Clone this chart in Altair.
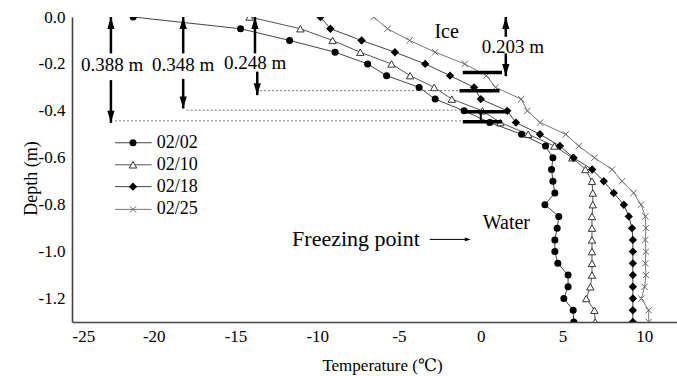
import altair as alt
import pandas as pd

# ---------------- data ----------------
depths = [0.0, -0.05, -0.1, -0.15, -0.2, -0.25, -0.3, -0.35, -0.4, -0.45, -0.5, -0.55, -0.6,
          -0.65, -0.7, -0.75, -0.8, -0.85, -0.9, -0.95, -1.0, -1.05, -1.1, -1.15, -1.2, -1.25, -1.3]
series_names = ["02/02", "02/10", "02/18", "02/25"]
t_0202 = [-21.26, -14.69, -11.69, -8.91, -6.92, -5.76, -3.77, -2.79, -1.02, 0.55, 2.5, 3.96, 4.41,
          4.33, 4.41, 4.53, 3.92, 4.77, 4.67, 4.53, 4.53, 4.71, 5.34, 5.34, 5.08, 5.65, 5.69]
t_0210 = [-14.14, -11.03, -9.06, -7.37, -5.46, -4.32, -2.85, -1.77, 0.1, 1.2, 2.9, 4.5, 5.6,
          6.4, 6.8, 6.85, 6.85, 6.8, 6.8, 6.8, 6.8, 6.8, 6.8, 6.7, 6.45, 6.95, 7.0]
t_0218 = [-9.81, -9.2, -7.29, -5.25, -3.4, -1.88, -0.41, 0.0, 1.62, 2.15, 3.62, 4.84, 5.67,
          6.81, 7.52, 8.13, 8.75, 9.05, 9.25, 9.3, 9.3, 9.3, 9.3, 9.3, 9.3, 9.3, 9.3]
t_0225 = [-6.55, -5.7, -4.35, -2.79, -0.98, 0.35, 0.9, 2.47, 2.85, 3.63, 5.2, 5.99, 6.95,
          8.03, 8.64, 9.35, 9.8, 10.06, 10.1, 10.06, 10.1, 10.06, 10.1, 10.02, 9.82, 10.27, 10.27]

# annotation values
arrow_x = [-22.62, -18.2, -13.81, 1.53]
arrow_labels = ["0.388 m", "0.348 m", "0.248 m", "0.203 m"]
label_x = [-22.55, -18.2, -13.8, 1.96]
label_y = [-0.205, -0.205, -0.198, -0.127]
up_shaft_end = [-0.155, -0.155, -0.155, -0.084]
low_shaft_x = [-22.62, -18.2, -13.67, 1.53]
low_shaft_start = [-0.269, -0.264, -0.233, -0.155]
low_tip = [-0.451, -0.39, -0.333, -0.252]

dotted_y = [-0.443, -0.397, -0.314]
dotted_x1 = [-22.37, -17.99, -13.5]
dotted_x2 = [-1.2, -1.2, -1.3]

bar_y = [-0.237, -0.314, -0.404, -0.446]
bar_x1 = [-1.1, -1.3, -1.1, -1.1]
bar_x2 = [1.3, 1.15, 1.65, 1.3]

x_major = [-25, -20, -15, -10, -5, 0, 5, 10]
x_minor = [-22.5, -17.5, -12.5, -7.5, -2.5, 2.5, 7.5]
y_major = [0.0, -0.2, -0.4, -0.6, -0.8, -1.0, -1.2]
y_minor = [-0.1, -0.3, -0.5, -0.7, -0.9, -1.1]

legend_y = [-0.536, -0.630, -0.723, -0.820]

# ---------------- tables ----------------
rows = []
for name, vals in zip(series_names, [t_0202, t_0210, t_0218, t_0225]):
    for i, (d, t) in enumerate(zip(depths, vals)):
        rows.append({"series": name, "depth": d, "temp": t, "idx": i})
df = pd.DataFrame(rows)

FONT = "'Liberation Serif', 'Times New Roman', 'DejaVu Serif', serif"
X = alt.X("temp:Q", scale=alt.Scale(domain=[-25, 12], nice=False, zero=False),
          axis=alt.Axis(values=x_major, ticks=False, labelPadding=6, labelFontSize=17,
                        labelFont=FONT, labelColor="black", domainColor="#444", domainWidth=1.6,
                        grid=False, title="Temperature (℃)", titleFont=FONT, titleFontSize=17,
                        titleFontWeight="normal", titleColor="black", titleX=310, titleY=43,
                        titleBaseline="middle",
                        labelExpr="replace(format(datum.value, 'd'), '\u2212', '-')"))
Y = alt.Y("depth:Q", scale=alt.Scale(domain=[-1.3, 0], nice=False, zero=False),
          axis=alt.Axis(values=y_major, ticks=False, labelPadding=7, labelFontSize=17,
                        labelFont=FONT, labelColor="black", domainColor="#444", domainWidth=1.6,
                        grid=False, title="Depth (m)", titleFont=FONT, titleFontSize=18,
                        titleFontWeight="normal", titleColor="black", titleX=-41, titleY=161,
                        titleBaseline="middle", titleAlign="center", titleAngle=270,
                        labelExpr="replace(format(datum.value, '.1f'), '\u2212', '-')"))

line_colors = ["#444", "#555", "#444", "#777"]
lines = alt.Chart(df).mark_line(strokeWidth=1, clip=True).encode(
    x=X, y=Y, order="idx:Q",
    color=alt.Color("series:N", scale=alt.Scale(domain=series_names, range=line_colors), legend=None),
)

CROSS = "M-1,-1L1,1M-1,1L1,-1"
pt_styles = {
    "02/02": dict(shape="circle", filled=True, color="black", size=49),
    "02/10": dict(shape="triangle-up", filled=True, fill="white", stroke="#333", strokeWidth=1, size=55),
    "02/18": dict(shape="diamond", filled=True, color="black", size=70),
    "02/25": dict(shape=CROSS, filled=False, stroke="#666", strokeWidth=1, size=40),
}
point_layers = []
for name in series_names:
    point_layers.append(
        alt.Chart(df).transform_filter(alt.datum.series == name)
        .mark_point(clip=True, opacity=1, **pt_styles[name])
        .encode(x="temp:Q", y="depth:Q")
    )

# frame top line
top_line = alt.Chart(pd.DataFrame({"d": [0.0]})).mark_rule(color="#444", strokeWidth=1.6).encode(y=alt.Y("d:Q"))

# ticks (inside)
xt_major = alt.Chart(pd.DataFrame({"v": x_major})).mark_tick(orient="vertical", size=12, thickness=1.4,
    color="#444", yOffset=-6).encode(x="v:Q", y=alt.datum(-1.3))
xt_minor = alt.Chart(pd.DataFrame({"v": x_minor})).mark_tick(orient="vertical", size=6, thickness=1.2,
    color="#444", yOffset=-3).encode(x="v:Q", y=alt.datum(-1.3))
yt_major = alt.Chart(pd.DataFrame({"v": y_major})).mark_tick(orient="horizontal", size=11, thickness=1.4,
    color="#444", xOffset=5.5).encode(y="v:Q", x=alt.datum(-25))
yt_minor = alt.Chart(pd.DataFrame({"v": y_minor})).mark_tick(orient="horizontal", size=6, thickness=1.2,
    color="#444", xOffset=3).encode(y="v:Q", x=alt.datum(-25))

# freezing point line
freeze = alt.Chart(pd.DataFrame({"t": [0.0]})).mark_rule(color="black", strokeWidth=2.2,
    strokeDash=[9, 5]).encode(x="t:Q")
freeze_solid = alt.Chart(pd.DataFrame({"t": [0.0], "a": [bar_y[2]], "b": [bar_y[3]]})).mark_rule(
    color="black", strokeWidth=2).encode(x="t:Q", y="a:Q", y2="b:Q")

# dotted guide lines
dots = alt.Chart(pd.DataFrame({"y": dotted_y, "x1": dotted_x1, "x2": dotted_x2})).mark_rule(
    color="#777", strokeWidth=1, strokeDash=[2, 2]).encode(x="x1:Q", x2="x2:Q", y="y:Q")

# thick ice-bottom bars
bars = alt.Chart(pd.DataFrame({"y": bar_y, "x1": bar_x1, "x2": bar_x2})).mark_rule(
    color="black", strokeWidth=3.5).encode(x="x1:Q", x2="x2:Q", y="y:Q")

# arrows
ann = pd.DataFrame({"x": arrow_x, "lx": low_shaft_x, "top": [0.0] * 4, "ue": up_shaft_end,
                    "ls": low_shaft_start, "lt": low_tip, "label": arrow_labels,
                    "tx": label_x, "ty": label_y})
up_shaft = alt.Chart(ann).mark_rule(color="black", strokeWidth=2.5).encode(x="x:Q", y="top:Q", y2="ue:Q")
low_shaft = alt.Chart(ann).mark_rule(color="black", strokeWidth=2.5).encode(x="lx:Q", y="ls:Q", y2="lt:Q")
HEAD_UP = "M0,0L0.6,2L-0.6,2Z"
HEAD_DOWN = "M0,0L0.6,-2L-0.6,-2Z"
up_head = alt.Chart(ann).mark_point(shape=HEAD_UP, filled=True, color="black", size=144, opacity=1,
    strokeWidth=0).encode(x="x:Q", y="top:Q")
down_head = alt.Chart(ann).mark_point(shape=HEAD_DOWN, filled=True, color="black", size=144, opacity=1,
    strokeWidth=0).encode(x="lx:Q", y="lt:Q")
ann_text = alt.Chart(ann).mark_text(font=FONT, fontSize=19, color="black", align="center",
    baseline="middle").encode(x="tx:Q", y="ty:Q", text="label:N")

# text labels
txt = pd.DataFrame({"x": [-2.09, 0.12], "y": [-0.065, -0.879], "t": ["Ice", "Water"]})
ice_txt = alt.Chart(txt.iloc[[0]]).mark_text(font=FONT, fontSize=20, color="black", align="center",
    baseline="middle").encode(x="x:Q", y="y:Q", text="t:N")
water_txt = alt.Chart(txt.iloc[[1]]).mark_text(font=FONT, fontSize=20, color="black", align="left",
    baseline="middle").encode(x="x:Q", y="y:Q", text="t:N")
fp = pd.DataFrame({"x": [-3.73], "y": [-0.948], "t": ["Freezing point"], "a1": [-3.12], "a2": [-0.9],
                   "tip": [-0.61]})
fp_txt = alt.Chart(fp).mark_text(font=FONT, fontSize=22, color="black", align="right",
    baseline="middle").encode(x="x:Q", y="y:Q", text="t:N")
fp_arrow = alt.Chart(fp).mark_rule(color="black", strokeWidth=1).encode(x="a1:Q", x2="a2:Q", y="y:Q")
fp_head = alt.Chart(fp).mark_point(shape="M0,0L-2,0.6L-2,-0.6Z", filled=True, color="black", size=36,
    opacity=1, strokeWidth=0).encode(x="tip:Q", y="y:Q")

# legend (drawn inside the plot)
leg = pd.DataFrame({"series": series_names, "y": legend_y, "x1": [-22.37] * 4, "x2": [-20.13] * 4,
                    "mx": [-21.27] * 4, "tx": [-19.82] * 4})
leg_lines = alt.Chart(leg).mark_rule(strokeWidth=1).encode(
    x="x1:Q", x2="x2:Q", y="y:Q",
    color=alt.Color("series:N", scale=alt.Scale(domain=series_names, range=line_colors), legend=None))
leg_pts = []
for name in series_names:
    leg_pts.append(alt.Chart(leg).transform_filter(alt.datum.series == name)
                   .mark_point(opacity=1, **pt_styles[name]).encode(x="mx:Q", y="y:Q"))
leg_txt = alt.Chart(leg).mark_text(font=FONT, fontSize=18, color="black", align="left",
    baseline="middle").encode(x="tx:Q", y="y:Q", text="series:N")

chart = alt.layer(
    lines, *point_layers, top_line, xt_major, xt_minor, yt_major, yt_minor,
    dots, freeze, freeze_solid, bars,
    up_shaft, low_shaft, up_head, down_head, ann_text,
    ice_txt, water_txt, fp_txt, fp_arrow, fp_head,
    leg_lines, *leg_pts, leg_txt,
).encode(x=X, y=Y).properties(
    width=605, height=305,
    autosize=alt.AutoSizeParams(type="none"),
    padding={"left": 72, "top": 17, "right": 0, "bottom": 54},
    background="white",
).configure_view(stroke=None)

chart.save("out.html", embed_options={"renderer": "svg", "actions": False})
